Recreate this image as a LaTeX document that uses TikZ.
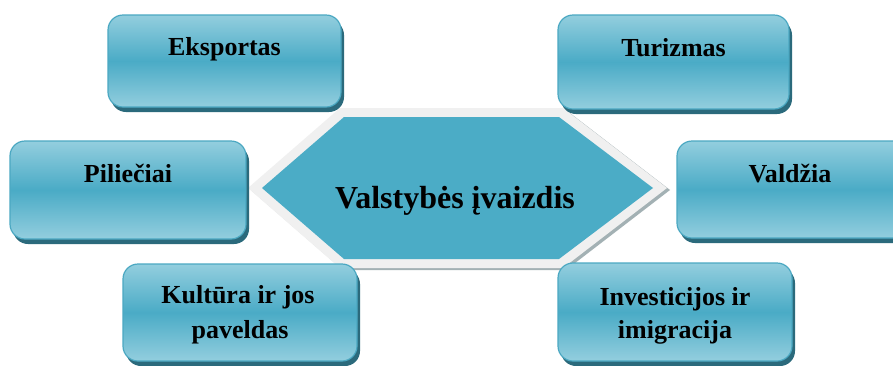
\documentclass[tikz,border=0pt]{standalone}
\usepackage{fontspec}
\setmainfont{Liberation Serif}
\definecolor{boxlight}{HTML}{93CEDE}
\definecolor{boxdark}{HTML}{4AABC6}
\definecolor{boxedge}{HTML}{4BA8C2}
\definecolor{boxshadow}{HTML}{2B6A7C}
\definecolor{hexfill}{HTML}{4BACC6}
\definecolor{hexrim}{HTML}{F0F0F0}
\definecolor{hexshadow}{HTML}{A3B1B4}
\tikzset{
  shadowbox/.style={fill=boxshadow, rounded corners=15pt},
  topicbox/.style={rounded corners=15pt, draw=boxedge, line width=1.2pt,
     top color=boxlight, bottom color=boxlight, middle color=boxdark},
  lbl/.style={font=\bfseries\fontsize{26}{34}\selectfont, anchor=base, inner sep=0pt, align=center},
}
\begin{document}
\begin{tikzpicture}[x=1pt,y=-1pt]
\clip (0,0) rectangle (893,365);
\fill[white] (0,0) rectangle (893,365);
% hexagon
\fill[hexshadow] (251,190) -- (343,110) -- (566,110) -- (670,190) -- (566,270) -- (343,270) -- cycle;
\fill[hexrim] (248,188) -- (340,108) -- (563,108) -- (667,188) -- (563,268) -- (340,268) -- cycle;
\fill[hexfill] (262,188) -- (344,117) -- (559,117) -- (653,188) -- (559,259) -- (344,259) -- cycle;
\node[font=\bfseries\fontsize{32}{38}\selectfont, anchor=base, inner sep=0pt] (center) at (455,208) {Valstybės įvaizdis};
% boxes
\foreach \n/\xa/\ya/\xb/\yb in {E/108/15/341/107, T/558/15/789/109, P/10/141/246/239, V/677/141/915/238, K/123/264/357/361, I/558/263/792/361}{
  \fill[shadowbox] (\xa+3,\ya+5) rectangle (\xb+3,\yb+5);
  \path[topicbox] (\xa,\ya) rectangle (\xb,\yb);
  \coordinate (\n) at ({(\xa+\xb)/2},\ya);
}
\node[lbl] (eks) at ([yshift=-40pt]E) {Eksportas};
\node[lbl] (tur) at ([yshift=-41pt]T) {Turizmas};
\node[lbl] (pil) at ([yshift=-41pt]P) {Piliečiai};
\node[lbl] (val) at (790,182) {Valdžia};
\node[lbl] (kul) at ([xshift=-2pt,yshift=-39pt]K) {Kultūra ir jos};
\node[lbl] (pav) at ([yshift=-74pt]K) {paveldas};
\node[lbl] (inv) at ([yshift=-42pt]I) {Investicijos ir};
\node[lbl] (imi) at ([yshift=-75pt]I) {imigracija};
\end{tikzpicture}
\end{document}
